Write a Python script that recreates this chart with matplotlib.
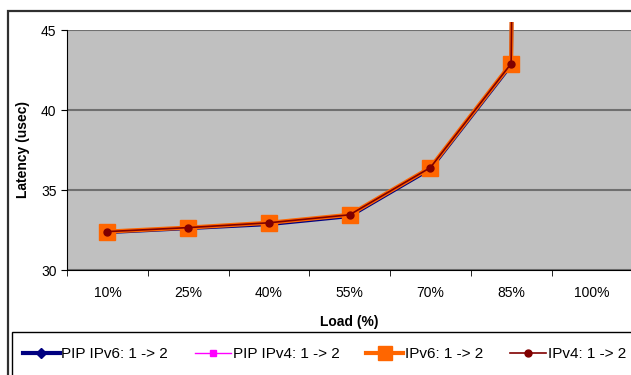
import matplotlib
matplotlib.use('Agg')
import matplotlib.pyplot as plt
from matplotlib.patches import Rectangle
from matplotlib.lines import Line2D

plt.rcParams['font.family'] = ['Liberation Sans', 'DejaVu Sans']

# data
loads = ['10%', '25%', '40%', '55%', '70%', '85%', '100%']
pip_ipv6 = [32.35, 32.6, 32.85, 33.35, 36.3, 42.8, 500]
pip_ipv4 = [32.4, 32.65, 32.9, 33.4, 36.35, 42.85, 500]
ipv6 = [32.4, 32.65, 32.95, 33.45, 36.4, 42.9, 500]
ipv4 = [32.4, 32.65, 32.95, 33.45, 36.4, 42.9, 500]
y_ticks = [30, 35, 40, 45]

fig = plt.figure(figsize=(6.31, 3.75), dpi=100)
ax = fig.add_axes([67/631, 1 - 270/375, 1 - 67/631 + 0.002, 240/375])
ax.set_facecolor('#C0C0C0')

x = list(range(len(loads)))
clip = Rectangle((0, 0), 1, 1.035, transform=ax.transAxes, facecolor='none')

styles = [
    dict(color='#000080', lw=2.5, marker='D', ms=5, label='PIP IPv6: 1 -> 2'),
    dict(color='#FF00FF', lw=1, marker='s', ms=4, label='PIP IPv4: 1 -> 2'),
    dict(color='#FF6600', lw=3, marker='s', ms=11.5, label='IPv6: 1 -> 2'),
    dict(color='#800000', lw=1.2, marker='o', ms=5, label='IPv4: 1 -> 2'),
]
for vals, st in zip([pip_ipv6, pip_ipv4, ipv6, ipv4], styles):
    ln, = ax.plot(x, vals, **st)
    ln.set_clip_path(clip)

ax.set_xlim(-0.5, len(loads) - 0.5)
ax.set_ylim(30, 45)
ax.set_yticks(y_ticks)
ax.yaxis.grid(True, color='#707070', lw=1.5)
ax.set_axisbelow(True)

ax.set_xticks(x)
ax.set_xticklabels(loads, fontsize=10)
ax.set_xticks([i - 0.5 for i in range(len(loads) + 1)], minor=True)
ax.tick_params(axis='x', which='major', length=0, pad=11.5)
ax.tick_params(axis='x', which='minor', length=4, direction='out')
ax.tick_params(axis='y', length=4, direction='out', labelsize=10)

for s in ['top', 'right']:
    ax.spines[s].set_visible(False)

ax.set_ylabel('Latency (usec)', fontsize=10, fontweight='bold', labelpad=8)
ax.set_xlabel('Load (%)', fontsize=10, fontweight='bold', labelpad=10.5)

# outer chart border
fig.patches.append(Rectangle((8/631, -0.1), 1.2, 1 - 11/375 + 0.1,
                             transform=fig.transFigure, fill=False,
                             edgecolor='#303030', lw=1.6))
# legend box
fig.patches.append(Rectangle((12/631, -0.1), 1.2, 1 - 332/375 + 0.1,
                             transform=fig.transFigure, fill=False,
                             edgecolor='black', lw=1))

# legend proxies (markers drawn a little smaller than in the plot)
leg_ms = [5.5, 5, 10, 5]
handles = [Line2D([], [], color=st['color'], lw=st['lw'] + (0.5 if i == 0 else 0),
                  marker=st['marker'], ms=m, label=st['label'])
           for i, (st, m) in enumerate(zip(styles, leg_ms))]
fig.legend(handles=handles, loc='center left', bbox_to_anchor=(23/631, 1 - 354/375),
           ncol=4, frameon=False, fontsize=11, handlelength=2.4,
           handletextpad=0.1, columnspacing=1.75, borderaxespad=0, borderpad=0)

fig.savefig('out.png', dpi=100)
